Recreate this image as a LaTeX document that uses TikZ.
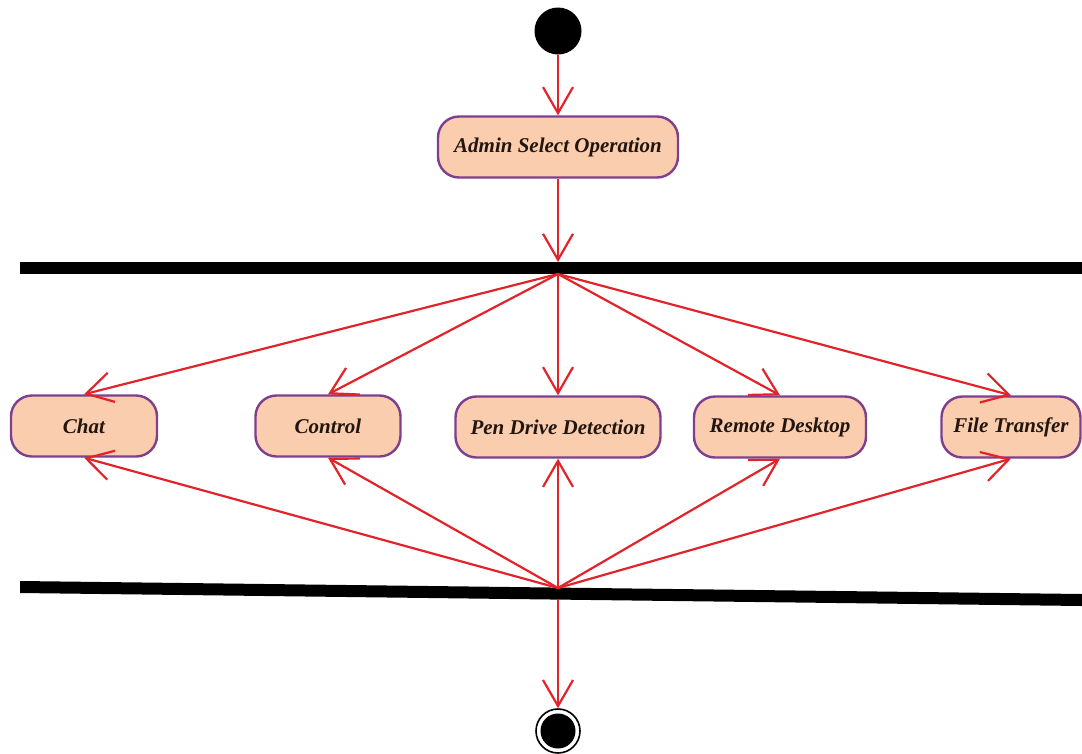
\documentclass[tikz,border=0pt]{standalone}
\usepackage{fontspec}
\setmainfont{Liberation Serif}
\usetikzlibrary{arrows.meta}
\definecolor{flowred}{HTML}{E2232A}
\definecolor{actfill}{HTML}{F9CDAD}
\definecolor{actedge}{HTML}{7E3F8E}
\definecolor{acttext}{HTML}{22150E}
\tikzset{
  action/.style={draw=actedge, line width=2.4pt, fill=actfill, rounded corners=21pt,
    minimum height=61pt, inner sep=0pt, text=acttext,
    font=\fontsize{21}{25}\selectfont\bfseries\itshape},
  flow/.style={draw=flowred, line width=2.2pt,
    -{Straight Barb[length=26pt, width=30pt, line width=2.2pt]}},
  syncbar/.style={fill=black, draw=none},
}
\begin{document}
\begin{tikzpicture}[x=1pt, y=-1pt]
  \useasboundingbox (0,0) rectangle (1082,753);

  % initial and final states
  \node[circle, fill=black, minimum size=47pt, inner sep=0pt] (start) at (558,31) {};
  \node[circle, draw=black, line width=1.6pt, minimum size=44pt, inner sep=0pt] (final) at (558,731) {};
  \fill[black] (final.center) circle[radius=17.5pt];

  % first action
  \node[action, minimum width=240pt] (admin) at (558,147) {Admin Select Operation};

  % fork and join bars
  \fill[syncbar] (20,262) rectangle (1082,274);
  \fill[syncbar] (20,581) -- (1082,594) -- (1082,606) -- (20,593) -- cycle;
  \coordinate (forkin) at (558,262);
  \coordinate (forkout) at (558,274);
  \coordinate (joinin) at (558,588);
  \coordinate (joinout) at (558,600);

  % parallel actions
  \node[action, minimum width=146pt] (chat) at (84,426) {Chat};
  \node[action, minimum width=145pt] (control) at (328,426) {Control};
  \node[action, minimum width=205pt] (pen) at (558,427) {Pen Drive Detection};
  \node[action, minimum width=172pt] (remote) at (780,427) {Remote Desktop};
  \node[action, minimum width=139pt] (file) at (1011,427) {File Transfer};

  % control flow
  \draw[flow] (start) -- (admin.north);
  \draw[flow] (admin.south) -- (forkin);
  \foreach \n in {chat,control,pen,remote,file} {
    \draw[flow] (forkout) -- (\n.north);
    \draw[flow] (joinin) -- (\n.south);
  }
  \draw[flow] (joinout) -- (final.north);
\end{tikzpicture}
\end{document}
